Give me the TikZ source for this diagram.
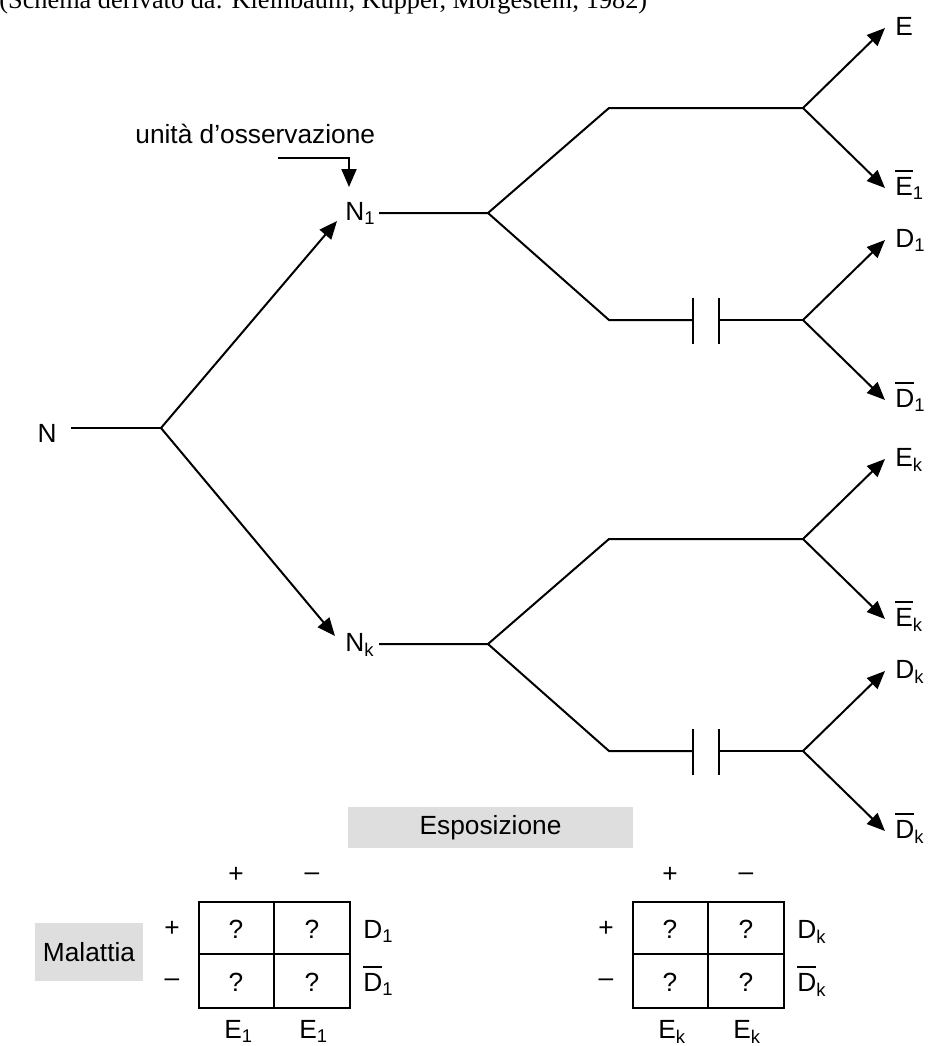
\documentclass[tikz,border=0pt]{standalone}
\usepackage{fontspec}
\setmainfont{Liberation Sans}
\newfontfamily\capfont{Liberation Serif}
\usetikzlibrary{arrows.meta,positioning}
\definecolor{boxgray}{RGB}{222,222,222}
\newcommand{\barlab}[1]{\setbox0\hbox{#1}\rlap{\rule[\dimexpr\ht0+0.17em\relax]{\wd0}{0.075em}}\box0}
\tikzset{
  every node/.style={inner sep=0pt, font=\fontsize{13.15}{15.8}\selectfont},
  branch/.style={line width=1pt},
  arr/.style={line width=1pt, -{Triangle[length=9pt,width=7.5pt]}},
  lab/.style={anchor=base west},
  greybox/.style={fill=boxgray, inner sep=0pt}
}

\begin{document}
\begin{tikzpicture}[x=0.5pt,y=-0.5pt]
\useasboundingbox (0,0) rectangle (929,1046);

% source of the scheme
\node[anchor=base west, font=\capfont\fontsize{13.15}{15.8}\selectfont] (src) at (-1,8)
  {(Schema derivato da: Kleinbaum, Kupper, Morgestein; 1982)};

% root
\node (N) at (47,433) {N};
\coordinate (n0) at (71,428);
\coordinate (fN) at (161,428);
\coordinate (t1) at (337,221);
\coordinate (tk) at (335,636);
\draw[branch] (n0) -- (fN);
\draw[arr] (fN) -- (t1);
\draw[arr] (fN) -- (tk);

% observation unit
\node[lab] (obs) at (135,143) {unità d'osservazione};
\coordinate (o1) at (278,158);
\coordinate (o2) at (349,187);
\draw[arr] (o1) -| (o2);

% the two sub-trees
\foreach \s/\Y/\toplab in {1/213/E, k/644/{E\textsubscript{k}}}{
  \node[lab] (N\s) at (345,\Y+7) {N\textsubscript{\s}};
  \coordinate (n\s) at (379,\Y);
  \coordinate (f\s) at (488,\Y);
  \coordinate (a\s) at (609,\Y-105);
  \coordinate (b\s) at (803,\Y-105);
  \coordinate (c\s) at (609,\Y+107);
  \coordinate (g\s) at (693,\Y+107);
  \coordinate (h\s) at (719,\Y+107);
  \coordinate (d\s) at (803,\Y+107);
  \draw[branch] (n\s) -- (f\s) -- (a\s) -- (b\s);
  \draw[branch] (f\s) -- (c\s) -- (g\s);
  \draw[branch] (h\s) -- (d\s);
  \draw[branch] (693,\Y+85) -- (693,\Y+131);
  \draw[branch] (719,\Y+85) -- (719,\Y+131);
  %tips
  \coordinate (te\s) at (885,\Y-185);
  \coordinate (tn\s) at (885,\Y-25);
  \coordinate (td\s) at (885,\Y+27);
  \coordinate (tm\s) at (885,\Y+187);
  \draw[arr] (b\s) -- (te\s);
  \draw[arr] (b\s) -- (tn\s);
  \draw[arr] (d\s) -- (td\s);
  \draw[arr] (d\s) -- (tm\s);
  \node[lab] (E\s) at (895,\Y-178) {\toplab};
  \node[lab] (Eb\s) at (895,\Y-18) {\barlab{E}\textsubscript{\s}};
  \node[lab] (D\s) at (895,\Y+34) {D\textsubscript{\s}};
  \node[lab] (Db\s) at (895,\Y+194) {\barlab{D}\textsubscript{\s}};
}

% labels of the tables
\node[greybox, minimum width=142.5pt, minimum height=20.5pt] (expo) at (490.5,827.5) {Esposizione};
\node[greybox, minimum width=54pt, minimum height=29pt] (mal) at (89,952) {Malattia};

% 2x2 tables
\foreach \s/\dx in {1/0, k/434}{
  \begin{scope}[xshift=\dx*0.5pt]
    \draw[line width=1pt] (199,902) rectangle (350,1008);
    \draw[line width=1pt] (274,902) -- (274,1008) (199,954) -- (350,954);
    \node (cp\s) at (236,875) {+};
    \node (cm\s) at (312,877) {--};
    \node (rp\s) at (172,929) {+};
    \node (rm\s) at (172,983) {--};
    \node (q\s-11) at (236,929) {?};
    \node (q\s-12) at (312,929) {?};
    \node (q\s-21) at (236,982) {?};
    \node (q\s-22) at (312,982) {?};
    \node[lab] (rd\s) at (363,938) {D\textsubscript{\s}};
    \node[lab] (rdb\s) at (363,991) {\barlab{D}\textsubscript{\s}};
    \node[lab] (be\s) at (224,1038) {E\textsubscript{\s}};
    \node[lab] (bf\s) at (299,1038) {E\textsubscript{\s}};
  \end{scope}
}
\end{tikzpicture}
\end{document}
